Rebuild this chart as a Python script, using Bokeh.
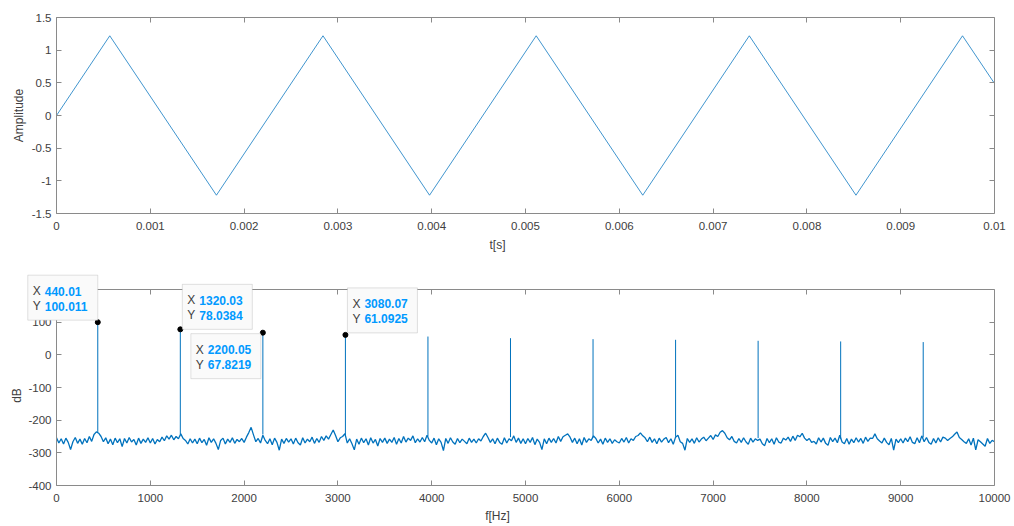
import math
import numpy as np
from bokeh.plotting import figure
from bokeh.layouts import column
from bokeh.models import FixedTicker, LinearAxis, Range1d, BoxAnnotation, Label
from bokeh.core.properties import value
from bokeh.embed import file_html
from bokeh.resources import INLINE

# ---------------- data ----------------
# top panel: triangle wave vertices
t_vertices = [0.0, 0.000568, 0.001705, 0.002841, 0.003977, 0.005114,
              0.006250, 0.007386, 0.008523, 0.009659, 0.010]
amp_vertices = [0.0, 1.22, -1.22, 1.22, -1.22, 1.22, -1.22, 1.22, -1.22, 1.22, 0.49]

# bottom panel: noise floor (dB), one value every 25 Hz from 0 to 10000 Hz
noise_step_hz = 25
noise_db = [
    -254, -270, -257, -273, -255, -268, -290, -266, -253, -271, -258, -274, -256, -269, -250, -265, -244, -236, -240, -250,
    -266, -254, -272, -258, -275, -255, -269, -257, -281, -256, -270, -253, -267, -259, -276, -255, -271, -258, -268, -254,
    -270, -256, -273, -259, -266, -252, -263, -248, -258, -246, -260, -250, -257, -242, -256, -262, -273, -257, -270, -258,
    -272, -255, -269, -259, -277, -254, -268, -257, -271, -290, -262, -255, -273, -258, -268, -254, -271, -259, -266, -256,
    -268, -252, -238, -222, -245, -266, -256, -270, -246, -262, -272, -257, -275, -255, -268, -292, -258, -271, -256, -267,
    -257, -273, -255, -269, -276, -254, -270, -258, -266, -252, -271, -256, -268, -250, -262, -248, -258, -244, -230, -247,
    -266, -254, -250, -241, -270, -257, -272, -291, -258, -274, -255, -269, -257, -276, -254, -270, -259, -279, -256, -268,
    -255, -271, -258, -268, -253, -274, -256, -270, -250, -267, -255, -262, -248, -269, -257, -267, -253, -266, -246, -262,
    -270, -255, -275, -257, -268, -293, -256, -271, -254, -267, -274, -256, -269, -258, -265, -272, -255, -268, -258, -270,
    -257, -264, -250, -240, -253, -268, -257, -272, -255, -268, -274, -254, -270, -257, -263, -248, -268, -255, -271, -257,
    -272, -256, -268, -253, -275, -258, -268, -290, -257, -272, -255, -268, -256, -270, -250, -265, -251, -246, -242, -252,
    -268, -255, -272, -257, -276, -253, -268, -257, -262, -248, -256, -270, -258, -274, -255, -268, -257, -271, -260, -266,
    -270, -256, -267, -253, -270, -257, -262, -250, -247, -239, -248, -254, -266, -252, -268, -257, -272, -255, -267, -258,
    -253, -269, -257, -274, -252, -246, -266, -271, -292, -256, -268, -257, -271, -254, -267, -258, -252, -263, -255, -247,
    -259, -245, -250, -237, -232, -240, -254, -260, -250, -265, -270, -256, -268, -254, -266, -274, -255, -267, -257, -262,
    -258, -272, -278, -256, -269, -257, -274, -254, -267, -270, -255, -261, -252, -265, -249, -262, -246, -251, -240, -255,
    -262, -256, -268, -265, -273, -254, -267, -255, -271, -277, -253, -266, -255, -269, -246, -267, -272, -256, -274, -258,
    -269, -254, -267, -256, -271, -252, -265, -255, -256, -242, -257, -264, -270, -255, -268, -275, -256, -292, -258, -269,
    -257, -270, -255, -266, -251, -268, -272, -254, -269, -248, -266, -253, -268, -274, -256, -270, -254, -267, -252, -255,
    -262, -256, -251, -243, -236, -253, -259, -266, -271, -257, -276, -255, -291, -260, -266, -273, -280, -256, -271, -262,
    -266,
]
peak_hz = [440.01, 1320.03, 2200.05, 3080.07, 3960, 4840, 5720, 6600, 7480, 8360, 9240]
peak_db = [100.011, 78.0384, 67.8219, 61.0925, 56, 51, 48, 46, 43, 41, 39]
peak_base_db = [-238, -243, -244, -246, -250, -252, -253, -251, -255, -257, -253]

# data tips
tip_hz = [440.01, 1320.03, 2200.05, 3080.07]
tip_db = [100.011, 78.0384, 67.8219, 61.0925]
tip_x_text = ["440.01", "1320.03", "2200.05", "3080.07"]
tip_y_text = ["100.011", "78.0384", "67.8219", "61.0925"]

# ticks
t_ticks = [0, 0.001, 0.002, 0.003, 0.004, 0.005, 0.006, 0.007, 0.008, 0.009, 0.01]
t_labels = ["0", "0.001", "0.002", "0.003", "0.004", "0.005", "0.006", "0.007", "0.008", "0.009", "0.01"]
a_ticks = [-1.5, -1, -0.5, 0, 0.5, 1, 1.5]
a_labels = ["-1.5", "-1", "-0.5", "0", "0.5", "1", "1.5"]
f_ticks = [0, 1000, 2000, 3000, 4000, 5000, 6000, 7000, 8000, 9000, 10000]
f_labels = ["0", "1000", "2000", "3000", "4000", "5000", "6000", "7000", "8000", "9000", "10000"]
d_ticks = [-400, -300, -200, -100, 0, 100]
d_labels = ["-400", "-300", "-200", "-100", "0", "100"]
d_ticks_all = [-400, -300, -200, -100, 0, 100, 200]

T_MIN, T_MAX = 0, 0.01
A_MIN, A_MAX = -1.5, 1.5
F_MIN, F_MAX = 0, 10000
D_MIN, D_MAX = -400, 200

# ---------------- styling ----------------
FONT = "Liberation Sans"
AX = "#8a8a8a"
TXT = "#404040"
LINE = "#0072bd"
TIPBLUE = "#0099ff"
FW, FH = 938, 196          # size of each axes box in pixels
LEFT = 56                  # left margin holding the y labels (part of the frame, see below)
BR = 20


def style_axis(ax, ticks, labels, standoff=6):
    ax.ticker = FixedTicker(ticks=ticks)
    ax.major_label_overrides = {t: l for t, l in zip(ticks, labels)}
    ax.major_tick_in = 0
    ax.major_tick_out = 0
    ax.minor_tick_line_color = None
    ax.axis_line_color = None
    ax.major_tick_line_color = None
    ax.major_label_text_font = FONT
    ax.major_label_text_color = TXT
    ax.major_label_text_font_size = "11.5px"
    ax.major_label_standoff = standoff
    ax.axis_label_text_font = FONT
    ax.axis_label_text_color = TXT
    ax.axis_label_text_font_style = "normal"
    ax.axis_label_text_font_size = "12px"


def mirror_axis(ticks, tick_in=5, tick_out=0, **kw):
    # a side of the axes box with ticks only (minor ticks carry no labels)
    ax = LinearAxis(ticker=FixedTicker(ticks=[], minor_ticks=ticks), **kw)
    ax.minor_tick_in = tick_in
    ax.minor_tick_out = tick_out
    ax.minor_tick_line_color = AX
    ax.major_tick_in = 0
    ax.major_tick_out = 0
    ax.major_tick_line_color = None
    ax.axis_line_color = AX
    ax.major_label_standoff = 0
    ax.major_label_text_font_size = "11px"
    return ax


def boxed_figure(x0, x1, y0, y1, extra_t, extra_b, border_t, border_b):
    """Frame = axes box + the left label margin + a few pixels above/below, so that
    labels and data tips drawn inside it are not clipped. The box is drawn by axes."""
    xpp = (x1 - x0) / FW
    ypp = (y1 - y0) / FH
    p = figure(width=1014, height=FH + extra_t + extra_b + border_t + border_b,
               x_range=Range1d(x0 - LEFT * xpp, x1),
               y_range=Range1d(y0 - extra_b * ypp, y1 + extra_t * ypp),
               y_axis_location=None, output_backend="svg", toolbar_location=None,
               min_border_left=0, min_border_right=BR,
               min_border_top=border_t, min_border_bottom=border_b)
    p.frame_width = FW + LEFT
    p.frame_height = FH + extra_t + extra_b
    p.grid.visible = False
    p.outline_line_color = None
    return p, xpp, ypp


def draw_box(p, x0, x1, y0, y1, xt, yt):
    p.add_layout(mirror_axis(xt, tick_in=5, fixed_location=y1, bounds=(x0, x1)), "above")
    p.add_layout(mirror_axis(xt, tick_in=5, fixed_location=y0, bounds=(x0, x1)), "below")
    p.add_layout(mirror_axis(yt, tick_in=5, bounds=(y0, y1)), "right")
    p.add_layout(mirror_axis(yt, tick_in=0, tick_out=5, fixed_location=x0, bounds=(y0, y1)), "right")


def y_labels(p, x0, ticks, labels, title, title_dx_px, title_y, x_per_px):
    p.text(x=[x0] * len(ticks), y=ticks, text=labels, x_offset=-5,
           text_align="right", text_baseline="middle", text_font=value(FONT),
           text_font_size="11.5px", text_color=TXT)
    p.text(x=[x0 + title_dx_px * x_per_px], y=[title_y], text=[title], angle=math.pi / 2,
           text_align="center", text_baseline="middle", text_font=value(FONT),
           text_font_size="12px", text_color=TXT)


# ---------------- top panel ----------------
p1, s_px, a_px = boxed_figure(T_MIN, T_MAX, A_MIN, A_MAX, 8, 8, 9, 35)
p1.line(t_vertices, amp_vertices, line_color=LINE, line_width=1, line_alpha=0.75)
style_axis(p1.xaxis[0], t_ticks, t_labels, standoff=0)
p1.xaxis[0].axis_label = "t[s]"
p1.xaxis[0].axis_label_standoff = 5
draw_box(p1, T_MIN, T_MAX, A_MIN, A_MAX, t_ticks, a_ticks)
y_labels(p1, T_MIN, a_ticks, a_labels, "Amplitude", -38, (A_MIN + A_MAX) / 2, s_px)

# ---------------- bottom panel ----------------
p2, hz_px, db_px = boxed_figure(F_MIN, F_MAX, D_MIN, D_MAX, 18, 8, 15, 33)
noise_hz = np.arange(len(noise_db)) * noise_step_hz
p2.line(noise_hz, noise_db, line_color=LINE, line_width=1.3)
p2.segment(x0=peak_hz, y0=peak_base_db, x1=peak_hz, y1=peak_db, line_color=LINE, line_width=1)
style_axis(p2.xaxis[0], f_ticks, f_labels, standoff=0)
p2.xaxis[0].axis_label = "f[Hz]"
p2.xaxis[0].axis_label_standoff = 4
draw_box(p2, F_MIN, F_MAX, D_MIN, D_MAX, f_ticks, d_ticks_all)
y_labels(p2, F_MIN, d_ticks, d_labels, "dB", -40, (D_MIN + D_MAX) / 2 - 8 * db_px, hz_px)

# data tips (box offsets in screen pixels relative to the tip point)
box_dx = [-70, 2, -72, 2]
box_dy = [-47, -45, 1, -47]
box_w, box_h = 70, 45
for f, d, xs, ys, dx, dy in zip(tip_hz, tip_db, tip_x_text, tip_y_text, box_dx, box_dy):
    p2.add_layout(BoxAnnotation(left=f + dx * hz_px, right=f + (dx + box_w) * hz_px,
                                top=d - dy * db_px, bottom=d - (dy + box_h) * db_px,
                                fill_color="#fafafa", fill_alpha=1.0,
                                line_color="#9c9c9c", line_width=1, level="overlay"))
    for k, (lab, val) in enumerate((("X", xs), ("Y", ys))):
        yy = d - (dy + 16 + 15 * k) * db_px
        p2.add_layout(Label(x=f + (dx + 5) * hz_px, y=yy, text=lab,
                            text_font=FONT, text_font_size="12px", text_color=TXT,
                            text_baseline="middle", text_align="left", level="overlay"))
        p2.add_layout(Label(x=f + (dx + 17) * hz_px, y=yy, text=val,
                            text_font=FONT, text_font_size="12px", text_color=TIPBLUE,
                            text_font_style="bold",
                            text_baseline="middle", text_align="left", level="overlay"))

p2.scatter(tip_hz, tip_db, size=5, color="black", level="overlay")

layout = column(p1, p2, spacing=0)
open("out.html", "w").write(file_html(layout, INLINE))
